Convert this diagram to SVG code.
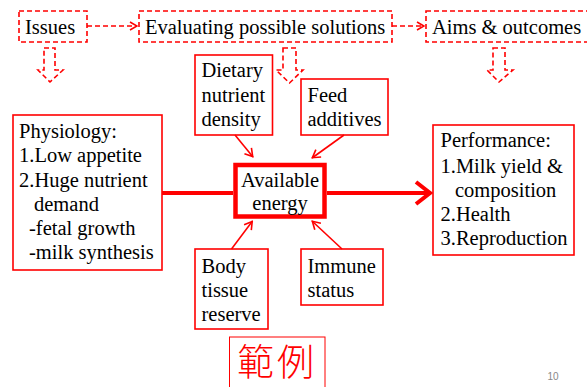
<svg xmlns="http://www.w3.org/2000/svg" width="587" height="387" viewBox="0 0 587 387">
<style>
text{font-family:"Liberation Serif","Times New Roman",serif;font-size:20.5px;fill:#000}
.dash{fill:none;stroke:#ff0000;stroke-width:1.6;stroke-dasharray:5,3}
.box{fill:#fff;stroke:#ff0000;stroke-width:1.6}
.thin{fill:none;stroke:#ff0000;stroke-width:1.6}
.thick{fill:none;stroke:#ff0000;stroke-width:4}
</style>
<defs>
<marker id="ah" viewBox="0 0 10 10" refX="9" refY="5" markerWidth="10" markerHeight="10" markerUnits="userSpaceOnUse" orient="auto">
<path d="M2,1 L9,5 L2,9" fill="none" stroke="#ff0000" stroke-width="1.6"/>
</marker>
<marker id="ahs" viewBox="0 0 12 12" refX="11" refY="6" markerWidth="12" markerHeight="12" markerUnits="userSpaceOnUse" orient="auto">
<path d="M3,1.5 L10.5,6 L3,10.5" fill="none" stroke="#ff0000" stroke-width="1.6"/>
</marker>
<marker id="ahb" viewBox="0 0 20 26" refX="18" refY="13" markerWidth="20" markerHeight="26" markerUnits="userSpaceOnUse" orient="auto">
<path d="M3,2 L17,13 L3,24" fill="none" stroke="#ff0000" stroke-width="4"/>
</marker>
</defs>
<g id="issues">
<rect class="dash" x="19" y="11" width="68" height="31"/>
<text x="25" y="34">Issues</text>
</g>
<g id="evaluating">
<rect class="dash" x="139" y="11" width="253" height="31"/>
<text x="145" y="34">Evaluating possible solutions</text>
</g>
<g id="aims">
<rect class="dash" x="426" y="11" width="170" height="31"/>
<text x="432" y="34">Aims &amp; outcomes</text>
</g>
<g id="down-arrows">
<path class="dash" d="M44,48 H55 V70 H63 L50,82 L38,70 H44 Z"/>
<path class="dash" d="M283,48 H296 V70 H303 L289.5,83 L276,70 H283 Z"/>
<path class="dash" d="M493,48 H505 V70 H513 L499,82 L487,70 H493 Z"/>
</g>
<g id="physiology">
<rect class="box" x="13" y="115" width="149" height="155"/>
<text x="19" y="138">Physiology:</text>
<text x="19" y="162">1.Low appetite</text>
<text x="19" y="186.5">2.Huge nutrient</text>
<text x="34" y="211">demand</text>
<text x="29" y="235">-fetal growth</text>
<text x="29" y="259">-milk synthesis</text>
</g>
<g id="dietary">
<rect class="box" x="195" y="55" width="77.5" height="80"/>
<text x="201.5" y="77">Dietary</text>
<text x="201.5" y="101.5">nutrient</text>
<text x="201.5" y="126">density</text>
</g>
<g id="feed">
<rect class="box" x="301" y="79" width="87" height="56"/>
<text x="307.5" y="101.5">Feed</text>
<text x="307.5" y="126">additives</text>
</g>
<g id="available">
<rect x="235.5" y="165" width="89" height="51.5" fill="#fff" stroke="#ff0000" stroke-width="4.5"/>
<text x="280" y="186.5" text-anchor="middle">Available</text>
<text x="280" y="210" text-anchor="middle">energy</text>
</g>
<g id="body">
<rect class="box" x="195" y="249" width="73" height="80"/>
<text x="201.5" y="273">Body</text>
<text x="201.5" y="297">tissue</text>
<text x="201.5" y="321">reserve</text>
</g>
<g id="immune">
<rect class="box" x="301" y="249" width="82" height="56"/>
<text x="307.5" y="273">Immune</text>
<text x="307.5" y="297">status</text>
</g>
<g id="performance">
<rect class="box" x="433" y="125" width="141" height="130"/>
<text x="440.5" y="147">Performance:</text>
<text x="440.5" y="172.5">1.Milk yield &amp;</text>
<text x="455" y="196.5">composition</text>
<text x="440.5" y="221">2.Health</text>
<text x="440.5" y="245">3.Reproduction</text>
</g>
<g id="connectors">
<line class="dash" x1="87" y1="26" x2="137" y2="26" marker-end="url(#ah)"/>
<line class="dash" x1="392" y1="26" x2="424" y2="26" marker-end="url(#ah)"/>
<line class="thick" x1="162" y1="193" x2="233" y2="193"/>
<line class="thick" x1="327" y1="193" x2="431" y2="193" marker-end="url(#ahb)"/>
<line class="thin" x1="235" y1="135" x2="253" y2="157" marker-end="url(#ahs)"/>
<line class="thin" x1="344" y1="135" x2="312" y2="158" marker-end="url(#ahs)"/>
<line class="thin" x1="231.5" y1="249" x2="252.5" y2="221" marker-end="url(#ahs)"/>
<line class="thin" x1="342" y1="249" x2="312" y2="221" marker-end="url(#ahs)"/>
</g>
<g id="example">
<rect x="229.5" y="337" width="95.5" height="60" fill="none" stroke="#ff0000" stroke-width="1"/>
<text x="277" y="376" text-anchor="middle" letter-spacing="3" style="font-family:'Noto Sans CJK TC','Noto Sans CJK SC',serif;font-size:37px;fill:#ff0000;font-weight:300">範例</text>
</g>
<text x="553" y="380" text-anchor="middle" style="font-family:'Liberation Sans',Arial,sans-serif;font-size:10px;fill:#888">10</text>
</svg>
